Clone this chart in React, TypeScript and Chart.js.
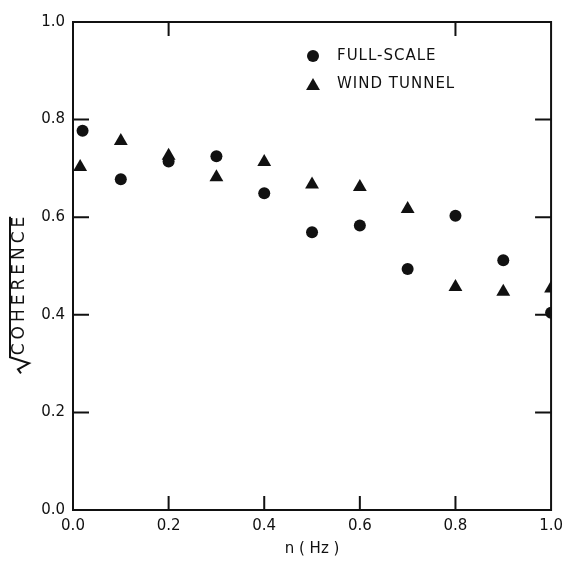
import React, { useEffect, useRef } from "react";
import { Chart, registerables } from "chart.js";

Chart.register(...registerables);

// ---- data ----
const fullScaleX = [0.02, 0.1, 0.2, 0.3, 0.4, 0.5, 0.6, 0.7, 0.8, 0.9, 1.0];
const fullScaleY = [0.777, 0.678, 0.714, 0.725, 0.649, 0.569, 0.583, 0.494, 0.603, 0.512, 0.404];
const windTunnelX = [0.015, 0.1, 0.2, 0.3, 0.4, 0.5, 0.6, 0.7, 0.8, 0.9, 1.0];
const windTunnelY = [0.703, 0.756, 0.726, 0.682, 0.713, 0.667, 0.662, 0.617, 0.457, 0.447, 0.454];

const xTicks = [0, 0.2, 0.4, 0.6, 0.8, 1.0];
const yTicks = [0, 0.2, 0.4, 0.6, 0.8, 1.0];
const bottomMarks = [0.2, 0.4, 0.6, 0.8];
const topMarks = [0.2, 0.8];
const leftMarks = [0.2, 0.4, 0.6, 0.8];
const rightMarks = [0.2, 0.4, 0.6, 0.8];

const seriesNames = ["FULL-SCALE", "WIND TUNNEL"];
const xTitle = "n ( Hz )";
const yTitle = "COHERENCE";

const INK = "#111111";

const framePlugin = {
  id: "framePlugin",
  afterDatasetsDraw(chart: any) {
    const { ctx, chartArea } = chart;
    const xs = chart.scales.x;
    const ys = chart.scales.y;
    const { left, right, top, bottom } = chartArea;
    ctx.save();
    ctx.strokeStyle = INK;
    ctx.lineWidth = 2;
    ctx.strokeRect(left, top, right - left, bottom - top);
    ctx.beginPath();
    for (const v of bottomMarks) {
      const px = xs.getPixelForValue(v);
      ctx.moveTo(px, bottom);
      ctx.lineTo(px, bottom - 14);
    }
    for (const v of topMarks) {
      const px = xs.getPixelForValue(v);
      ctx.moveTo(px, top);
      ctx.lineTo(px, top + 14);
    }
    for (const v of leftMarks) {
      const py = ys.getPixelForValue(v);
      ctx.moveTo(left, py);
      ctx.lineTo(left + 16, py);
    }
    for (const v of rightMarks) {
      const py = ys.getPixelForValue(v);
      ctx.moveTo(right, py);
      ctx.lineTo(right - 16, py);
    }
    ctx.stroke();

    // legend
    const lx = 313;
    const ly1 = 56;
    const ly2 = 84;
    ctx.fillStyle = INK;
    ctx.beginPath();
    ctx.arc(lx, ly1, 6, 0, Math.PI * 2);
    ctx.fill();
    const r = 8;
    ctx.beginPath();
    ctx.moveTo(lx, ly2 + 2 - r);
    ctx.lineTo(lx + r * Math.sin((2 * Math.PI) / 3), ly2 + 2 - r * Math.cos((2 * Math.PI) / 3));
    ctx.lineTo(lx - r * Math.sin((2 * Math.PI) / 3), ly2 + 2 - r * Math.cos((2 * Math.PI) / 3));
    ctx.closePath();
    ctx.fill();
    ctx.font = "15px 'DejaVu Sans'";
    (ctx as any).letterSpacing = "1px";
    ctx.textAlign = "left";
    ctx.textBaseline = "middle";
    ctx.fillText(seriesNames[0], 337, ly1);
    ctx.fillText(seriesNames[1], 337, ly2);

    // y title with radical sign
    ctx.save();
    ctx.translate(20, 294);
    ctx.rotate(-Math.PI / 2);
    ctx.font = "17px 'DejaVu Sans'";
    (ctx as any).letterSpacing = "4px";
    ctx.textBaseline = "middle";
    ctx.textAlign = "left";
    const w = ctx.measureText(yTitle).width;
    const startX = -w / 2 + 10;
    ctx.fillText(yTitle, startX, 0);
    // radical
    ctx.lineWidth = 2;
    ctx.beginPath();
    ctx.moveTo(startX - 18, 1);
    ctx.lineTo(startX - 14, -2);
    ctx.lineTo(startX - 8, 9);
    ctx.lineTo(startX - 2, -10);
    ctx.lineTo(startX + w - 4, -10);
    ctx.stroke();
    ctx.restore();

    ctx.restore();
  },
};

export default function App() {
  const canvasRef = useRef<HTMLCanvasElement | null>(null);

  useEffect(() => {
    const canvas = canvasRef.current;
    if (!canvas) return;
    const chart = new Chart(canvas, {
      type: "scatter",
      data: {
        datasets: [
          {
            label: seriesNames[0],
            data: fullScaleX.map((x, i) => ({ x, y: fullScaleY[i] })),
            pointStyle: "circle",
            pointRadius: 6,
            backgroundColor: INK,
            borderColor: INK,
            borderWidth: 0,
            clip: 0,
          },
          {
            label: seriesNames[1],
            data: windTunnelX.map((x, i) => ({ x, y: windTunnelY[i] })),
            pointStyle: "triangle",
            pointRadius: 8,
            backgroundColor: INK,
            borderColor: INK,
            borderWidth: 0,
            clip: 0,
          },
        ],
      },
      options: {
        responsive: false,
        animation: false,
        layout: { padding: { left: 0, top: 22, right: 17, bottom: 0 } },
        plugins: {
          legend: { display: false },
          tooltip: { enabled: false },
        },
        scales: {
          x: {
            type: "linear",
            min: 0,
            max: 1,
            grid: { display: false, drawTicks: false },
            border: { display: false },
            afterBuildTicks: (s: any) => {
              s.ticks = xTicks.map((v) => ({ value: v }));
            },
            afterFit: (s: any) => {
              s.height = 51;
            },
            ticks: {
              padding: 7,
              color: INK,
              font: { family: "'DejaVu Sans'", size: 15 },
              callback: (v: any) => Number(v).toFixed(1),
            },
            title: {
              display: true,
              text: xTitle,
              color: INK,
              font: { family: "'DejaVu Sans'", size: 15 },
              padding: { top: 0, bottom: 3 },
            },
          },
          y: {
            type: "linear",
            min: 0,
            max: 1,
            grid: { display: false, drawTicks: false },
            border: { display: false },
            afterBuildTicks: (s: any) => {
              s.ticks = yTicks.map((v) => ({ value: v }));
            },
            afterFit: (s: any) => {
              s.width = 73;
            },
            ticks: {
              padding: 8,
              color: INK,
              font: { family: "'DejaVu Sans'", size: 15 },
              callback: (v: any) => Number(v).toFixed(1),
            },
          },
        },
      },
      plugins: [framePlugin],
    });
    return () => chart.destroy();
  }, []);

  return (
    <div style={{ position: "fixed", left: 0, top: 0, width: 570, height: 561, background: "#fff" }}>
      <canvas ref={canvasRef} width={570} height={561} style={{ display: "block" }} />
    </div>
  );
}
